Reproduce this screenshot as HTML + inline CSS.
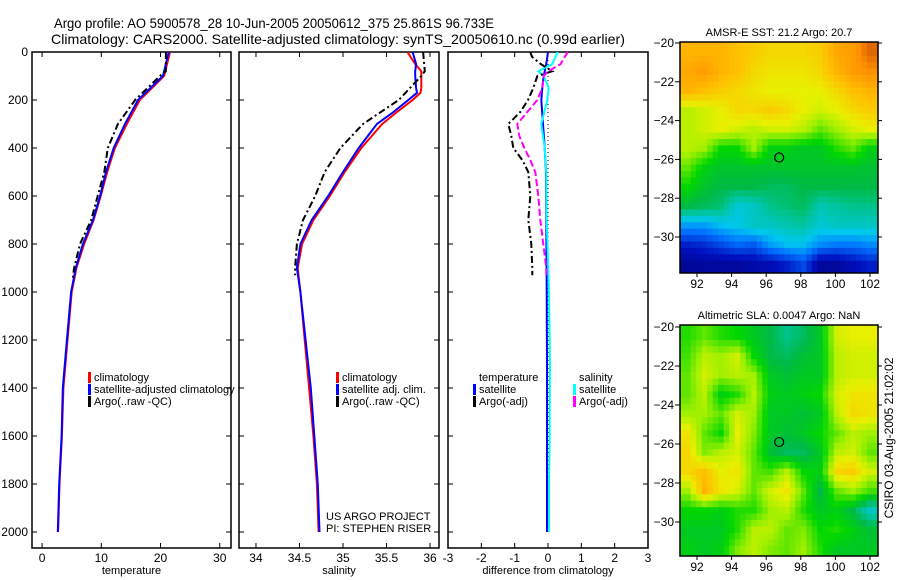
<!DOCTYPE html>
<html><head><meta charset="utf-8"><style>
html,body{margin:0;padding:0;background:#fff;width:900px;height:580px;overflow:hidden}
svg{display:block;font-family:"Liberation Sans",sans-serif}
</style></head><body>
<svg id="fig" width="900" height="580" viewBox="0 0 900 580"></svg>
<script>
// ---- data ----
const depthT=[0,100,200,300,400,500,600,700,800,900,1000,1200,1400,1600,1800,2000];
const tempSat=[21.4,20.4,16.2,14.0,12.1,10.8,9.8,8.6,6.9,5.7,4.9,4.2,3.5,3.3,2.9,2.65];
const tempClim=[21.6,20.6,16.5,14.3,12.3,11.0,9.9,8.7,7.1,5.8,5.0,4.3,3.6,3.35,2.95,2.7];
const depthArgo=[0,80,100,200,300,400,500,600,700,800,900,940];
const tempArgo=[20.9,20.9,19.9,15.7,12.8,11.1,10.5,9.4,8.3,6.4,5.4,5.2];
const depthS=[0,50,80,100,150,170,200,250,300,400,500,600,700,800,900,1000,1200,1400,1600,1800,2000];
const salSat=[35.80,35.84,35.83,35.83,35.84,35.85,35.75,35.58,35.39,35.18,35.00,34.83,34.64,34.51,34.47,34.51,34.57,34.63,34.67,34.71,34.73];
const salClim=[35.74,35.83,35.90,35.90,35.90,35.89,35.80,35.62,35.45,35.21,35.02,34.85,34.66,34.53,34.48,34.51,34.56,34.61,34.66,34.70,34.72];
const depthSA=[0,80,100,200,300,400,500,600,700,800,900,930];
const salArgo=[35.92,35.94,35.90,35.64,35.23,34.97,34.79,34.68,34.54,34.47,34.45,34.45];
const depthD=[0,20,50,80,100,150,200,250,300,350,400,450,500,600,700,800,900,930];
const dTempArgo=[-0.53,-0.48,-0.22,0.13,-0.32,-0.44,-0.6,-0.83,-1.19,-1.1,-1.04,-0.77,-0.59,-0.53,-0.59,-0.5,-0.47,-0.47];
const dSalArgo=[0.6,0.5,0.38,0.01,-0.13,-0.17,-0.32,-0.62,-0.92,-0.86,-0.71,-0.53,-0.38,-0.29,-0.23,-0.14,-0.05,-0.05];
const depthDS=[0,50,80,100,150,200,300,400,500,700,1000,1300,1600,1800,2000];
const dSalSat=[0.29,0.13,-0.29,-0.13,0.02,-0.02,-0.2,-0.1,-0.05,-0.04,0.03,0.06,0.05,0.03,0.03];
const dTempSat=[0,-0.05,-0.1,-0.13,-0.17,-0.2,-0.15,-0.1,-0.06,-0.05,-0.04,-0.03,-0.03,-0.03,-0.03];
const depthTicks=[0,200,400,600,800,1000,1200,1400,1600,1800,2000];
const tempTicks=[0,10,20,30];
const salTicks=[34,34.5,35,35.5,36];
const diffTicks=[-3,-2,-1,0,1,2,3];
const latTicks=[-20,-22,-24,-26,-28,-30];
const lonTicks=[92,94,96,98,100,102];
const sstGrid=[
[.86,.86,.86,.84,.82,.80,.80,.80,.82,.88,.90,.96],
[.88,.90,.86,.84,.80,.78,.78,.78,.80,.86,.90,.92],
[.86,.84,.82,.80,.78,.76,.76,.76,.76,.80,.84,.86],
[.72,.74,.76,.80,.80,.82,.80,.76,.74,.76,.80,.82],
[.72,.74,.76,.74,.72,.74,.74,.72,.66,.70,.74,.76],
[.72,.70,.60,.60,.70,.58,.58,.56,.56,.62,.66,.58],
[.66,.58,.55,.55,.55,.55,.55,.55,.55,.55,.55,.54],
[.60,.55,.52,.52,.52,.50,.50,.52,.52,.52,.52,.52],
[.52,.50,.48,.38,.40,.46,.48,.50,.42,.44,.46,.46],
[.30,.30,.34,.36,.40,.40,.42,.44,.38,.40,.40,.40],
[.14,.16,.20,.24,.22,.30,.34,.34,.28,.26,.26,.28],
[.05,.06,.06,.06,.08,.10,.14,.20,.06,.06,.10,.14]];
const slaGrid=[
[.62,.66,.62,.60,.56,.52,.46,.50,.56,.74,.76,.76],
[.64,.72,.70,.74,.60,.52,.50,.54,.56,.72,.74,.74],
[.66,.74,.70,.72,.70,.56,.54,.56,.56,.72,.74,.74],
[.66,.72,.58,.62,.72,.58,.56,.58,.60,.74,.78,.78],
[.70,.70,.66,.74,.70,.56,.56,.54,.56,.72,.80,.78],
[.78,.66,.60,.76,.68,.56,.54,.56,.60,.66,.72,.70],
[.80,.68,.72,.74,.66,.54,.50,.50,.56,.72,.74,.66],
[.80,.84,.76,.78,.66,.64,.72,.60,.58,.80,.82,.74],
[.70,.86,.78,.74,.66,.74,.78,.66,.52,.66,.70,.64],
[.60,.60,.58,.62,.62,.70,.72,.62,.56,.58,.52,.40],
[.56,.56,.56,.62,.72,.72,.66,.68,.60,.62,.58,.54],
[.58,.56,.58,.68,.72,.68,.66,.70,.62,.56,.56,.56]];
const floatLon=96.75, floatLat=-25.9;

// ---- drawing ----
const NS='http://www.w3.org/2000/svg';
const svg=document.getElementById('fig');
function el(tag,attrs,parent){const e=document.createElementNS(NS,tag);for(const k in attrs)e.setAttribute(k,attrs[k]);(parent||svg).appendChild(e);return e;}
function txt(s,x,y,size,anchor,parent){const t=el('text',{x:x,y:y,'font-size':size,'text-anchor':anchor||'start',fill:'#000'},parent);t.textContent=s;return t;}
const Y0=52,YS=0.24,YB=548;
const yD=d=>Y0+d*YS;

function panel(name,x0,x1,xmin,xmax,ticks,fmt,label){
  const g=el('g',{});
  
  
  const xs=v=>x0+(v-xmin)/(xmax-xmin)*(x1-x0);
  el('rect',{x:x0,y:Y0,width:x1-x0,height:YB-Y0,fill:'none',stroke:'#000','stroke-width':1.5},g);
  ticks.forEach(v=>{const X=xs(v);
    el('line',{x1:X,y1:Y0,x2:X,y2:Y0+5,stroke:'#000'},g);
    el('line',{x1:X,y1:YB,x2:X,y2:YB-5,stroke:'#000'},g);
    const t=txt(fmt(v),X,562,12,'middle',g);
    });
  depthTicks.forEach(d=>{const Y=yD(d);
    el('line',{x1:x0,y1:Y,x2:x0+5,y2:Y,stroke:'#000'},g);
    el('line',{x1:x1,y1:Y,x2:x1-5,y2:Y,stroke:'#000'},g);});
  const t=txt(label,(x0+x1)/2,574,11,'middle',g);
  
  return {g,xs};
}
function line(p,depths,vals,color,w,dash,name){
  const pts=depths.map((d,i)=>p.xs(vals[i]).toFixed(1)+','+yD(d).toFixed(1)).join(' ');
  const l=el('polyline',{points:pts,fill:'none',stroke:color,'stroke-width':w},p.g);
  if(dash)l.setAttribute('stroke-dasharray',dash);
  
  
}
function legend(g,x,y,items){
  items.forEach((it,i)=>{
    if(it[1])el('rect',{x:x,y:y+i*12-9,width:3,height:11,fill:it[1]},g);
    const t=txt(it[0],x+6,y+i*12,11,'start',g);
    
  });
}

// titles
const t1=txt('Argo profile: AO 5900578_28 10-Jun-2005 20050612_375 25.861S 96.733E',54,28,13.5);

t1.setAttribute('textLength','440');
t1.setAttribute('lengthAdjust','spacingAndGlyphs');
const t2=txt('Climatology: CARS2000. Satellite-adjusted climatology: synTS_20050610.nc (0.99d earlier)',51,44,14);

t2.setAttribute('textLength','574');
t2.setAttribute('lengthAdjust','spacingAndGlyphs');

// depth labels
depthTicks.forEach(d=>{const t=txt(String(d),28,yD(d)+4,12,'end');
  });

// panel 1 temperature
const p1=panel('temperature-panel',32,231,-1.7,31.9,tempTicks,v=>String(v),'temperature');
line(p1,depthT,tempClim,'#f00',2,null,'temp-climatology-line');
line(p1,depthT,tempSat,'#00f',2,null,'temp-satellite-line');
line(p1,depthArgo,tempArgo,'#000',2,'7,3,2,3','temp-argo-line');
legend(p1.g,88,381,[['climatology','#f00'],['satellite-adjusted climatology','#00f'],['Argo(..raw -QC)','#000']]);

// panel 2 salinity
const p2=panel('salinity-panel',239,439,33.805,36.103,salTicks,v=>String(v),'salinity');
line(p2,depthS,salClim,'#f00',2,null,'sal-climatology-line');
line(p2,depthS,salSat,'#00f',2,null,'sal-satellite-line');
line(p2,depthSA,salArgo,'#000',2,'7,3,2,3','sal-argo-line');
legend(p2.g,336,381,[['climatology','#f00'],['satellite adj. clim.','#00f'],['Argo(..raw -QC)','#000']]);
const u1=txt('US ARGO PROJECT',326,520,11);
const u2=txt('PI: STEPHEN RISER',326,532,11);

// panel 3 difference
const p3=panel('difference-panel',448,648,-3,3,diffTicks,v=>String(v),'difference from climatology');
el('line',{x1:p3.xs(0),y1:Y0,x2:p3.xs(0),y2:yD(2000),stroke:'#000','stroke-dasharray':'1,3'},p3.g);
line(p3,depthDS,dTempSat,'#00f',2,null,'dtemp-satellite-line');
line(p3,depthDS,dSalSat,'#0ff',2,null,'dsal-satellite-line');
line(p3,depthD,dTempArgo,'#000',2,'7,3,2,3','dtemp-argo-line');
line(p3,depthD,dSalArgo,'#f0f',2,'7,3','dsal-argo-line');
legend(p3.g,473,381,[['temperature',null],['satellite','#00f'],['Argo(-adj)','#000']]);
legend(p3.g,573,381,[['salinity',null],['satellite','#0ff'],['Argo(-adj)','#f0f']]);

// maps
const stops=[[0,[0,0,122]],[.12,[0,16,192]],[.25,[0,112,255]],[.35,[0,200,240]],[.45,[0,196,150]],[.52,[0,186,70]],[.6,[0,215,0]],[.7,[160,240,0]],[.76,[232,240,0]],[.84,[255,192,0]],[.92,[255,144,0]],[1,[192,64,0]]];
function cmap(v){for(let i=1;i<stops.length;i++){if(v<=stops[i][0]){const a=stops[i-1],b=stops[i],f=(v-a[0])/(b[0]-a[0]);
  return 'rgb('+a[1].map((c,j)=>Math.round(c+(b[1][j]-c)*f)).join(',')+')';}}return 'rgb(192,64,0)';}
function sample(grid,fr,fc){
  const nr=grid.length,nc=grid[0].length;
  let r=Math.max(0,Math.min(nr-1,fr-0.5)),c=Math.max(0,Math.min(nc-1,fc-0.5));
  const r0=Math.floor(r),c0=Math.floor(c),r1=Math.min(nr-1,r0+1),c1=Math.min(nc-1,c0+1);
  const a=r-r0,b=c-c0;
  return grid[r0][c0]*(1-a)*(1-b)+grid[r0][c1]*(1-a)*b+grid[r1][c0]*a*(1-b)+grid[r1][c1]*a*b;
}
function map(name,top,bottom,lat20y,lat30y,grid,title){
  const g=el('g',{});
  
  
  const x0=680,x1=878;
  const lx=lon=>697+(lon-92)*17.3;
  const ly=lat=>lat20y+(lat+20)/(-10)*(lat30y-lat20y);
  const clip=el('clipPath',{id:name+'-clip'},g);
  el('rect',{x:x0,y:top,width:x1-x0,height:bottom-top},clip);
  const cg=el('g',{'clip-path':'url(#'+name+'-clip)'},g);
  const nr=grid.length,nc=grid[0].length,S=3;
  const lonW=(102.45-91.0)/nc;
  for(let r=-1;r<nr*S;r++)for(let c=0;c<nc*S;c++){
    const v=sample(grid,(r+0.5)/S,(c+0.5)/S);
    const xa=lx(91.0+c*lonW/S),xb=lx(91.0+(c+1)*lonW/S);
    const ya=ly(-20-r*0.99/S),yb=ly(-20-(r+1)*0.99/S);
    const rc=el('rect',{x:xa.toFixed(1),y:ya.toFixed(1),width:(xb-xa+0.6).toFixed(1),height:(yb-ya+0.6).toFixed(1),fill:cmap(v)},cg);
    
    
  }
  el('rect',{x:x0,y:top,width:x1-x0,height:bottom-top,fill:'none',stroke:'#000','stroke-width':1.5},g);
  latTicks.forEach(l=>{const Y=ly(l);
    el('line',{x1:x0-5,y1:Y,x2:x0,y2:Y,stroke:'#000'},g);
    el('line',{x1:x1,y1:Y,x2:x1+4,y2:Y,stroke:'#000'},g);
    const t=txt(String(l).replace('-','\u2212'),674,Y+4,12,'end',g);
    });
  lonTicks.forEach(l=>{const X=lx(l);
    el('line',{x1:X,y1:bottom,x2:X,y2:bottom+4,stroke:'#000'},g);
    const t=txt(String(l),X,bottom+15,12,'middle',g);
    });
  const c=el('circle',{cx:lx(floatLon),cy:ly(floatLat),r:4.5,fill:'none',stroke:'#000','stroke-width':1.2},g);
  
  const tt=txt(title,779,top-6,11,'middle',g);
  
}
map('sst-map',42,273,43,237,sstGrid,'AMSR-E SST: 21.2 Argo: 20.7');
map('sla-map',325,556,327,522,slaGrid,'Altimetric SLA: 0.0047 Argo: NaN');
const cs=txt('CSIRO 03-Aug-2005 21:02:02',0,0,12,'middle');
cs.setAttribute('transform','translate(893,438) rotate(-90)');

</script>
</body></html>
